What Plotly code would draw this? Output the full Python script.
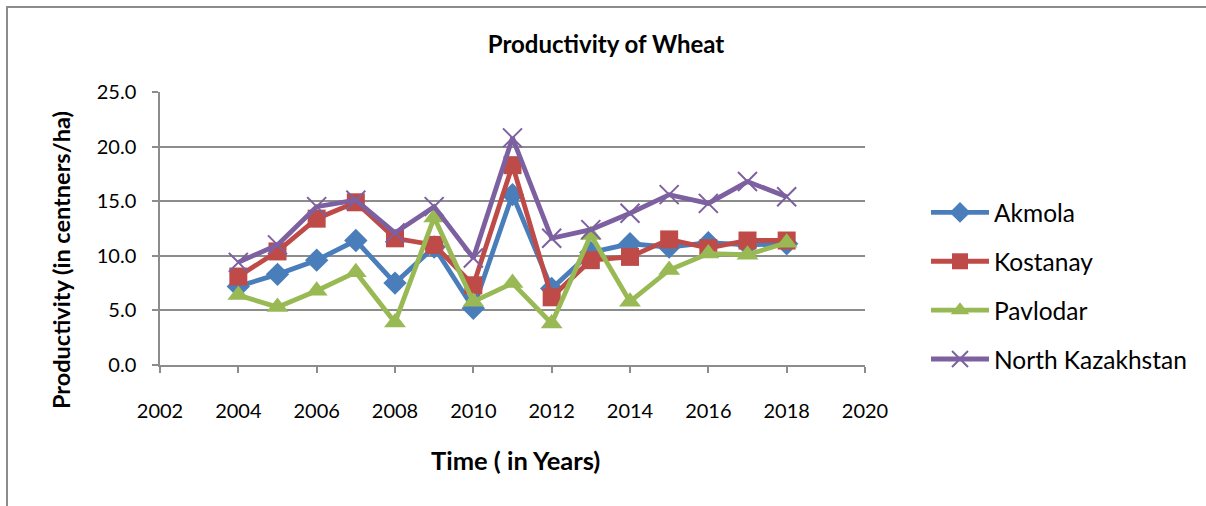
import plotly.graph_objects as go

years = [2004, 2005, 2006, 2007, 2008, 2009, 2010, 2011, 2012, 2013, 2014, 2015, 2016, 2017, 2018]
akmola = [7.2, 8.3, 9.6, 11.4, 7.5, 10.8, 5.2, 15.6, 7.0, 10.3, 11.1, 10.8, 11.2, 11.0, 11.1]
kostanay = [8.1, 10.4, 13.4, 14.9, 11.6, 11.0, 7.3, 18.3, 6.2, 9.6, 9.9, 11.5, 10.7, 11.4, 11.4]
pavlodar = [6.4, 5.3, 6.8, 8.5, 3.9, 13.5, 5.8, 7.5, 3.8, 11.9, 5.8, 8.7, 10.2, 10.1, 11.2]
north_kaz = [9.4, 11.0, 14.5, 15.1, 12.1, 14.5, 9.8, 20.8, 11.6, 12.4, 13.9, 15.6, 14.8, 16.8, 15.4]

series_names = ["Akmola", "Kostanay", "Pavlodar", "North Kazakhstan"]
x_ticks = [2002, 2004, 2006, 2008, 2010, 2012, 2014, 2016, 2018, 2020]
y_ticks = [0, 5, 10, 15, 20, 25]

FONT = "Lato"
W, H = 1206, 506
L, R, T, B = 160, 865, 92, 365  # plot area pixels

def px_x(p):  # pixel -> paper
    return (p - L) / (R - L)

def px_y(p):
    return (B - p) / (B - T)

fig = go.Figure()
styles = [
    (akmola, "#4A7EBB", dict(symbol="diamond", size=18, color="#4A7EBB")),
    (kostanay, "#BE4B48", dict(symbol="square", size=18, color="#BE4B48")),
    (pavlodar, "#98B954", dict(symbol="triangle-up", size=19, color="#98B954")),
    (north_kaz, "#7D60A0", dict(symbol="x-thin", size=19, color="#7D60A0",
                                line=dict(color="#7D60A0", width=2))),
]
for name, (vals, col, mk) in zip(series_names, styles):
    fig.add_trace(go.Scatter(
        x=years, y=vals, name=name, mode="lines+markers",
        line=dict(color=col, width=4.8), marker=mk, legendgroup=name,
    ))

grid_col = "#8C8C8C"
fig.update_layout(
    width=W, height=H,
    margin=dict(l=L, r=W - R, t=T, b=H - B, pad=0),
    paper_bgcolor="white", plot_bgcolor="white",
    font=dict(family=FONT, size=20, color="black"),
    title=dict(text="<b>Productivity of Wheat</b>", x=606 / W, xref="container",
               xanchor="center", y=1 - 45 / H, yref="container", yanchor="middle",
               font=dict(family=FONT, size=24, color="black")),
    xaxis=dict(range=[2002, 2020], tickvals=x_ticks, ticktext=[str(v) for v in x_ticks],
               showgrid=False, zeroline=False, showline=True, linecolor=grid_col, linewidth=1.5,
               ticks="outside", ticklen=6, tickcolor=grid_col, tickwidth=1.5,
               ticklabelstandoff=21, tickfont=dict(family=FONT, size=20, color="black")),
    yaxis=dict(range=[0, 25], tickvals=y_ticks, ticktext=["%.1f" % v for v in y_ticks],
               showgrid=True, gridcolor=grid_col, gridwidth=1.5, zeroline=False,
               showline=True, linecolor=grid_col, linewidth=1.5,
               ticks="outside", ticklen=6, tickcolor=grid_col, tickwidth=1.5,
               ticklabelstandoff=12, tickfont=dict(family=FONT, size=20, color="black")),
    legend=dict(x=px_x(926), y=px_y(190), xanchor="left", yanchor="top",
                font=dict(family=FONT, size=24.5, color="black"), itemwidth=58,
                tracegroupgap=14, bgcolor="rgba(0,0,0,0)"),
    showlegend=True,
)

fig.add_annotation(text="<b>Productivity (in centners/ha)</b>", textangle=-90,
                   x=px_x(61), y=px_y(260), xref="paper", yref="paper",
                   xanchor="center", yanchor="middle",
                   showarrow=False, font=dict(family=FONT, size=23.5, color="black"))
fig.add_annotation(text="<b>Time ( in Years)</b>",
                   x=px_x(515), y=px_y(460), xref="paper", yref="paper",
                   xanchor="center", yanchor="middle",
                   showarrow=False, font=dict(family=FONT, size=25.5, color="black"))

# outer chart frame
fig.add_shape(type="rect", xref="paper", yref="paper",
              x0=px_x(7), x1=px_x(1215), y0=px_y(515), y1=px_y(7),
              line=dict(color="#8C8C8C", width=2), layer="below")

fig.write_html("out.html", config={"displayModeBar": False},
               post_script="document.body.style.margin='0px';document.body.style.padding='0px';")
